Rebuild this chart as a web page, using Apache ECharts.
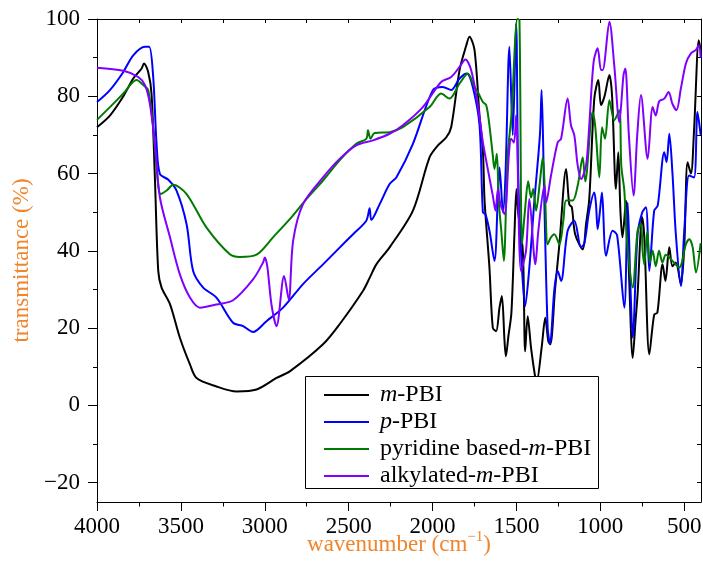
<!DOCTYPE html>
<html>
<head>
<meta charset="utf-8">
<script src="https://cdn.jsdelivr.net/npm/echarts@6/dist/echarts.min.js"></script>
<style>
  html, body { margin: 0; padding: 0; background: #fff; }
  #ftir { width: 703px; height: 576px; }
</style>
</head>
<body>
<div id="ftir"></div>
<script>
// FTIR spectra, [wavenumber, transmittance]
const mPBI = [
  [4000, 72], [3923, 75], [3843, 80], [3784, 84.6], [3734, 87.2], [3720, 88.5], [3695, 86.3],
  [3675, 80.7], [3655, 59], [3635, 34.8], [3615, 30.5], [3565, 26.2], [3506, 17.5], [3446, 10.6],
  [3407, 7.1], [3288, 4.9], [3168, 3.6], [3049, 4.1], [2930, 7.1], [2851, 8.8], [2653, 15.8],
  [2554, 21], [2415, 29.6], [2375, 33], [2335, 36.5], [2256, 40.9], [2117, 50.4], [2018, 64.2],
  [1968, 67.3], [1918, 69.4], [1889, 72], [1839, 86.8], [1800, 93], [1780, 95.4], [1750, 92],
  [1720, 75], [1700, 66], [1690, 53], [1661, 35.7], [1641, 20.1], [1621, 19.2], [1601, 25.3],
  [1587, 28.3], [1571, 16.6], [1563, 12.7], [1548, 17.9], [1530, 24], [1512, 44.3], [1500, 56],
  [1490, 50], [1462, 40], [1448, 14], [1433, 23.1], [1413, 14.9], [1389, 7.5], [1380, 6],
  [1350, 14.9], [1328, 22.7], [1310, 16.6], [1298, 15.8], [1270, 30], [1244, 41.7], [1204, 61.2],
  [1185, 52], [1170, 51.3], [1150, 44.3], [1105, 40.4], [1085, 47], [1066, 53.4], [1036, 79.4],
  [1012, 84.2], [996, 77.7], [975, 80], [946, 85.5], [930, 80], [907, 56], [893, 65.5], [880, 50],
  [868, 43.5], [847, 53], [830, 35], [807, 12.3], [790, 22], [778, 28.7], [751, 48.7], [738, 43.5],
  [708, 13.2], [679, 23.5], [660, 24], [629, 36.5], [612, 32.2], [589, 40.9], [570, 36], [550, 37],
  [520, 31.4], [500, 40.9], [480, 62.9], [460, 60], [441, 71.6], [413, 94.5], [402, 92]
];

const pPBI = [
  [4000, 78.5], [3923, 81.6], [3843, 86.3], [3784, 90.6], [3714, 92.8], [3689, 92.8], [3665, 85],
  [3645, 67.7], [3625, 59.9], [3575, 58.4], [3526, 55.6], [3466, 46.9], [3427, 34.8], [3367, 30.5],
  [3288, 27.9], [3189, 21.4], [3129, 20.5], [3070, 19], [2990, 21.8], [2891, 25.3], [2772, 31.4],
  [2653, 36.5], [2573, 40], [2474, 44.3], [2395, 47.8], [2375, 51], [2365, 48], [2315, 52.1],
  [2256, 57.3], [2216, 59], [2117, 67.7], [1998, 81.6], [1939, 82.4], [1889, 81.6], [1839, 84.6],
  [1796, 85.9], [1760, 82.4], [1720, 72.5], [1700, 50], [1685, 49.5], [1660, 45], [1631, 37.4],
  [1610, 55], [1601, 61.6], [1580, 50], [1565, 60], [1542, 92.8], [1522, 69.9], [1502, 98.9],
  [1490, 60], [1473, 40], [1448, 25.7], [1423, 35.7], [1393, 53], [1360, 70], [1350, 81.6],
  [1335, 55], [1314, 20], [1300, 16], [1274, 30], [1254, 34.8], [1234, 32.2], [1195, 45.2],
  [1155, 47.8], [1115, 40.9], [1095, 42], [1066, 50.4], [1036, 55.1], [1026, 52.1], [1016, 45.6],
  [996, 53], [990, 55.1], [966, 38.7], [927, 45.2], [900, 44], [857, 25.3], [837, 52.5], [820, 30],
  [807, 17.5], [778, 44.3], [750, 50], [728, 51.3], [708, 34.8], [679, 50.4], [658, 51.7],
  [619, 65.5], [605, 63], [589, 70.3], [570, 60], [550, 44.3], [520, 30.9], [500, 45], [471, 59.5],
  [441, 59], [421, 75.9], [402, 70]
];

const pyridinePBI = [
  [4000, 73.9], [3923, 77.2], [3843, 80.7], [3764, 84.2], [3724, 82.9], [3695, 81.6], [3665, 72],
  [3645, 61.6], [3621, 54.7], [3585, 55.6], [3546, 57.1], [3466, 54.7], [3347, 46], [3208, 39.1],
  [3149, 38.4], [3049, 39], [2951, 43.5], [2851, 48.2], [2752, 53.4], [2653, 58.2], [2554, 63.4],
  [2455, 67.7], [2395, 69], [2385, 71.2], [2370, 69], [2345, 70.5], [2256, 70.7], [2177, 72],
  [2018, 77.2], [1949, 80.7], [1899, 79.4], [1839, 83.3], [1790, 85.9], [1750, 82.4], [1730, 81.1],
  [1700, 78.5], [1680, 77.7], [1661, 72.5], [1641, 64.7], [1631, 61.2], [1617, 65.1], [1605, 52.5],
  [1590, 45], [1575, 37.4], [1560, 55], [1552, 65.1], [1530, 75], [1494, 100], [1482, 99.7],
  [1467, 41.7], [1450, 50], [1430, 58], [1413, 53.8], [1400, 56], [1383, 50.4], [1360, 58],
  [1343, 64.2], [1330, 55], [1314, 41.7], [1294, 43.5], [1274, 44.3], [1244, 41.7], [1220, 48],
  [1204, 53], [1165, 53], [1135, 56.9], [1105, 64.2], [1090, 58], [1046, 75.9], [1030, 72],
  [1006, 59], [990, 72], [972, 69], [946, 79], [917, 73.8], [887, 76.4], [875, 62], [857, 55.6],
  [840, 42], [807, 30.5], [778, 45.2], [758, 46.9], [748, 40], [738, 36.5], [720, 45], [705, 37],
  [688, 40], [670, 36], [650, 40], [630, 37], [610, 39], [589, 38.3], [530, 35.7], [490, 41.7],
  [470, 43], [450, 41], [430, 34.4], [402, 42]
];

const alkylPBI = [
  [4000, 87.4], [3843, 86.6], [3754, 85], [3714, 82.9], [3685, 78.1], [3655, 67.7], [3625, 53.8],
  [3565, 43.5], [3506, 33.9], [3446, 27.9], [3387, 25.3], [3288, 26.1], [3189, 27.2], [3070, 32.6],
  [3010, 37], [3000, 38.3], [2985, 36], [2960, 26.1], [2930, 20.5], [2885, 33.5], [2857, 27.4],
  [2831, 42.6], [2772, 52.1], [2653, 59], [2554, 63.8], [2455, 67.3], [2355, 68.6], [2256, 70.3],
  [2177, 72.5], [2058, 77.2], [1949, 83.7], [1889, 85], [1839, 87.6], [1804, 89.5], [1770, 86.8],
  [1730, 77.7], [1700, 68.1], [1671, 61.2], [1641, 54.3], [1625, 50.4], [1610, 56], [1595, 52],
  [1571, 49.5], [1545, 65], [1532, 69], [1515, 68], [1502, 75.1], [1473, 34.8], [1443, 40],
  [1423, 53.4], [1387, 36.5], [1370, 45], [1333, 56.9], [1323, 52.5], [1294, 59.5], [1254, 68.1],
  [1234, 69], [1195, 79.4], [1175, 72.5], [1155, 69.9], [1135, 62.1], [1115, 58.6], [1085, 62.1],
  [1066, 72.5], [1040, 88.9], [1016, 92.4], [996, 86.8], [986, 86.8], [946, 99.3], [917, 88],
  [887, 73.3], [862, 85.5], [851, 87.2], [830, 70], [802, 54.3], [780, 70], [758, 80.3], [718, 63.8],
  [688, 77.2], [670, 75], [649, 78.7], [619, 79.4], [593, 81.1], [570, 78], [546, 76.4], [520, 82],
  [490, 88.5], [460, 91.1], [430, 92], [413, 93.2], [402, 90]
];

const seriesNames = ['m-PBI', 'p-PBI', 'pyridine based-m-PBI', 'alkylated-m-PBI'];
const seriesColors = ['#000000', '#0000ff', '#007a00', '#8000ff'];
const xLabels = [4000, 3500, 3000, 2500, 2000, 1500, 1000, 500];
const xMinor = [3750, 3250, 2750, 2250, 1750, 1250, 750];
const yLabels = [-20, 0, 20, 40, 60, 80, 100];
const yMinor = [-10, 10, 30, 50, 70, 90];

const serif = "'Liberation Serif', 'Times New Roman', serif";
const orange = '#f0852d';

let myChart = echarts.init(document.getElementById('ftir'));

const frameLine = { show: true, onZero: false, lineStyle: { color: '#000', width: 1 } };
const noLine = { show: false, onZero: false };

myChart.setOption({
  animation: false,
  grid: { left: 97, right: 2, top: 19, bottom: 74, containLabel: false, outerBoundsMode: 'none' },
  xAxis: [
    {
      type: 'value', inverse: true, min: 400, max: 4000, position: 'bottom',
      name: 'wavenumber (cm{sup|\u22121})',
      nameLocation: 'middle', nameGap: 28, nameMoveOverlap: false,
      nameTextStyle: {
        color: orange, fontFamily: serif, fontSize: 23,
        rich: { sup: { fontSize: 15, color: orange, fontFamily: serif, verticalAlign: 'top', lineHeight: 30 } }
      },
      axisLine: frameLine,
      axisTick: { show: true, length: 9, customValues: xLabels, lineStyle: { color: '#000' } },
      axisLabel: { customValues: xLabels, color: '#000', fontFamily: serif, fontSize: 23, margin: 13,
        formatter: v => String(v) },
      splitLine: { show: false }
    },
    {
      // minor ticks below the axis
      type: 'value', inverse: true, min: 400, max: 4000, position: 'bottom',
      axisLine: noLine,
      axisTick: { show: true, length: 4.5, customValues: xMinor, lineStyle: { color: '#000' } },
      axisLabel: { show: false },
      splitLine: { show: false }
    },
    {
      // top frame
      type: 'value', inverse: true, min: 400, max: 4000, position: 'top',
      axisLine: frameLine,
      axisTick: { show: true, inside: true, length: 4, customValues: xMinor.concat(xLabels), lineStyle: { color: '#000' } },
      axisLabel: { show: false },
      splitLine: { show: false }
    }
  ],
  yAxis: [
    {
      type: 'value', min: -25, max: 100, position: 'left',
      name: 'transmittance (%)',
      nameLocation: 'middle', nameGap: 63,
      nameTextStyle: { color: orange, fontFamily: serif, fontSize: 23 },
      axisLine: frameLine,
      axisTick: { show: true, length: 9, customValues: yLabels, lineStyle: { color: '#000' } },
      axisLabel: { customValues: yLabels, color: '#000', fontFamily: serif, fontSize: 23, margin: 17,
        formatter: v => String(v).replace('-', '\u2212') },
      splitLine: { show: false }
    },
    {
      // minor ticks on the left
      type: 'value', min: -25, max: 100, position: 'left',
      axisLine: noLine,
      axisTick: { show: true, length: 4, customValues: yMinor, lineStyle: { color: '#000' } },
      axisLabel: { show: false },
      splitLine: { show: false }
    },
    {
      // right frame
      type: 'value', min: -25, max: 100, position: 'right',
      axisLine: frameLine,
      axisTick: { show: true, inside: true, length: 4, customValues: yMinor.concat(yLabels), lineStyle: { color: '#000' } },
      axisLabel: { show: false },
      splitLine: { show: false }
    }
  ],
  legend: {
    orient: 'vertical', left: 319, top: 378, z: 200,
    itemWidth: 45, itemHeight: 14, itemGap: 3,
    icon: 'path://M0,6 L45,6 L45,8 L0,8 Z',
    textStyle: {
      color: '#000', fontFamily: serif, fontSize: 24, lineHeight: 24, padding: [0, 0, 0, 6],
      rich: { i: { fontStyle: 'italic', fontFamily: serif, fontSize: 24, lineHeight: 24, color: '#000' } }
    },
    formatter: name => name.replace(/(^|-)([mp])-/, '$1{i|$2}-'),
    data: seriesNames
  },
  graphic: [{
    type: 'rect', left: 305, top: 376, z: 100,
    shape: { width: 293, height: 112 },
    style: { fill: '#fff', stroke: '#000', lineWidth: 1 }
  }],
  series: [mPBI, pPBI, pyridinePBI, alkylPBI].map((d, i) => ({
    name: seriesNames[i],
    type: 'line',
    xAxisIndex: 0, yAxisIndex: 0,
    data: d,
    symbol: 'none',
    smooth: 0.3,
    clip: true,
    color: seriesColors[i],
    lineStyle: { color: seriesColors[i], width: 2 },
    z: 2 + i
  }))
});

window.addEventListener('resize', () => {
  myChart.resize();
});
</script>
</body>
</html>
